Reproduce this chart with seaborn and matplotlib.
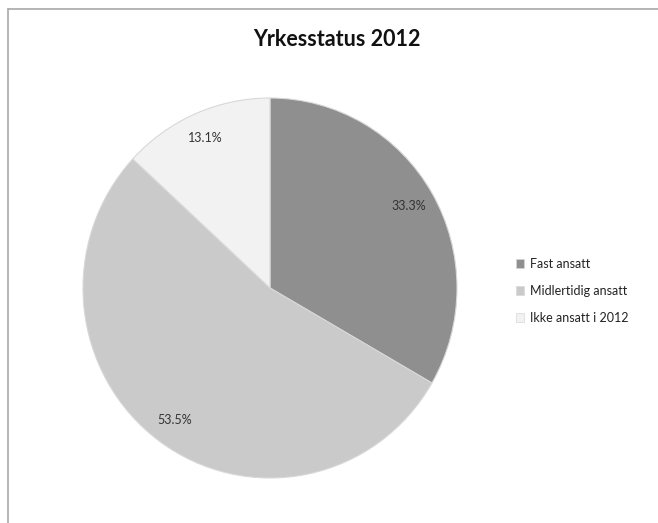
import matplotlib
matplotlib.use("Agg")
import matplotlib.pyplot as plt
from matplotlib.lines import Line2D
from matplotlib.patches import Rectangle
import seaborn as sns

title = "Yrkesstatus 2012"
categories = ["Fast ansatt", "Midlertidig ansatt", "Ikke ansatt i 2012"]
shares = [33.3, 53.5, 13.1]
colors = ["#8f8f8f", "#cacaca", "#f2f2f2"]

sns.set_theme(style="white")
plt.rcParams["font.family"] = ["Lato", "DejaVu Sans"]

W, H = 658, 523
fig = plt.figure(figsize=(W / 100, H / 100), dpi=100)

# frame line along the top and left edges
fig.add_artist(Line2D([8 / W, 1], [1 - 9 / H, 1 - 9 / H], color="#a8a8a8", lw=1.2))
fig.add_artist(Line2D([8 / W, 8 / W], [0, 1 - 9 / H], color="#a8a8a8", lw=1.2))

# pie is drawn slightly taller than wide
cx, cy, rx, ry = 270, 288, 187, 190
ax = fig.add_axes([(cx - rx) / W, 1 - (cy + ry) / H, 2 * rx / W, 2 * ry / H])
wedges, texts, autotexts = ax.pie(
    shares,
    colors=colors,
    startangle=90,
    counterclock=False,
    autopct=lambda p: f"{p:.1f}%",
    pctdistance=0.86,
    radius=1.0,
    wedgeprops=dict(edgecolor="#d8d8d8", linewidth=0.8),
    textprops=dict(fontsize=9, color="#333333"),
)
# show the stated values exactly
for t, v in zip(autotexts, shares):
    t.set_text(f"{v:.1f}%")
ax.set_aspect("auto")
ax.set_xlim(-1.0, 1.0)
ax.set_ylim(-1.0, 1.0)
ax.axis("off")

fig.text(337 / W, 1 - 39 / H, title, ha="center", va="center",
         fontsize=15.5, fontweight="bold", color="#111111")

handles = [Rectangle((0, 0), 1, 1, facecolor=c, edgecolor="#d8d8d8", lw=0.5) for c in colors]
fig.legend(handles, categories, loc="center left",
           bbox_to_anchor=(505 / W, 1 - 291 / H), frameon=False,
           fontsize=9, handlelength=0.65, handleheight=0.65, handletextpad=0.45,
           labelspacing=1.2, labelcolor="#222222")

fig.savefig("out.png", dpi=100, facecolor="white")
